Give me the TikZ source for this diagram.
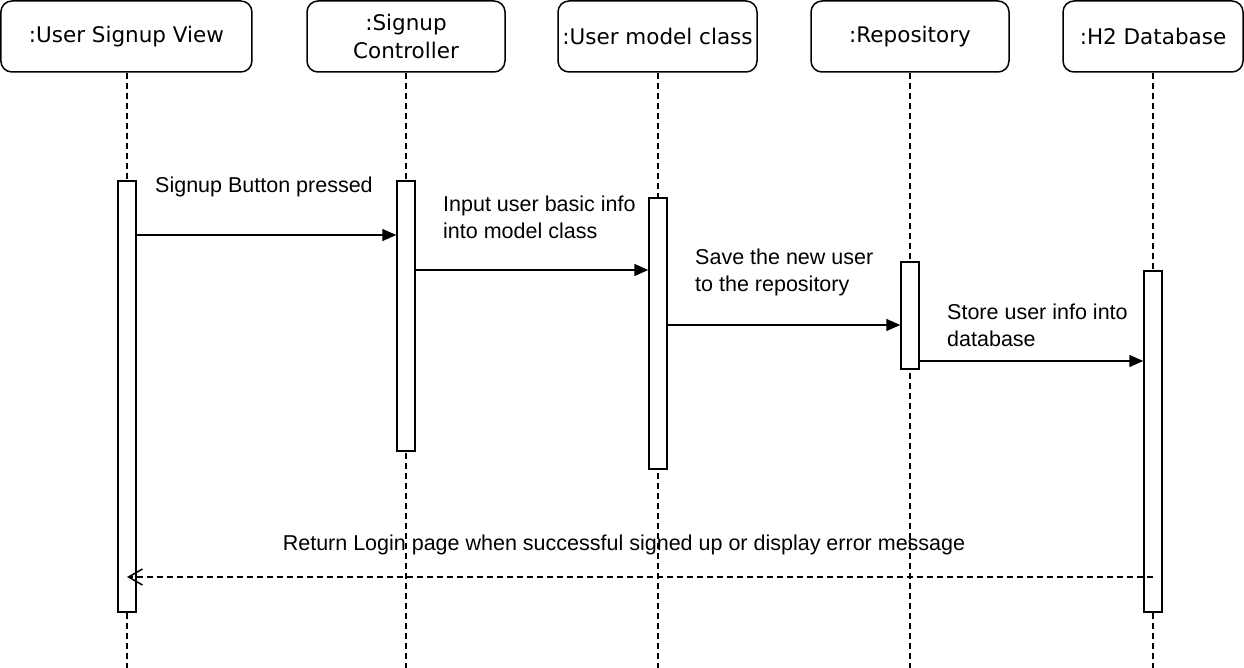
\documentclass[tikz,border=0pt]{standalone}
\usepackage{fontspec}
\setmainfont{Liberation Sans}
\newfontfamily\hdrfont{DejaVu Sans}
\usetikzlibrary{arrows.meta}
\begin{document}
\begin{tikzpicture}[x=1pt,y=-1pt,
  hdr/.style={draw, rounded corners=11pt, line width=1.5pt, inner sep=0pt, align=center,
    minimum height=71pt, font=\hdrfont\fontsize{21.5}{28}\selectfont},
  life/.style={line width=1.5pt, dash pattern=on 6pt off 4pt},
  actbar/.style={draw, fill=white, line width=1.5pt, inner sep=0pt, minimum width=18pt},
  msg/.style={line width=1.5pt, -{Triangle[length=14pt,width=12pt]}},
  ret/.style={line width=1.5pt, dash pattern=on 6pt off 4pt, -{Straight Barb[length=14pt,width=16pt,line width=1.5pt]}},
  lbl/.style={inner sep=0pt, align=left, anchor=west, font=\fontsize{21.5}{27}\selectfont}
]
\useasboundingbox (0,0) rectangle (1244,668);

% headers
\node[hdr, minimum width=251pt] (h1) at (126.4,36.5) {:User Signup View};
\node[hdr, minimum width=198pt] (h2) at (406,36.5) {:Signup\\Controller};
\node[hdr, minimum width=199pt] (h3) at (657.5,36.5) {:User model class};
\node[hdr, minimum width=198pt] (h4) at (910,36.5) {:Repository};
\node[hdr, minimum width=180pt] (h5) at (1153,36.5) {:H2 Database};

% lifeline ends
\coordinate (e1) at (127,668);
\coordinate (e2) at (406,668);
\coordinate (e3) at (658,668);
\coordinate (e4) at (910,668);
\coordinate (e5) at (1153,668);
\draw[life] (h1.south -| e1) -- (e1);
\draw[life] (h2.south) -- (e2);
\draw[life] (h3.south -| e3) -- (e3);
\draw[life] (h4.south) -- (e4);
\draw[life] (h5.south) -- (e5);

% activation bars
\node[actbar, minimum height=431pt] (b1) at (127,396.5) {};
\node[actbar, minimum height=270pt] (b2) at (406,316) {};
\node[actbar, minimum height=271pt] (b3) at (658,333.5) {};
\node[actbar, minimum height=107pt] (b4) at (910,315.5) {};
\node[actbar, minimum height=341pt] (b5) at (1153,441.5) {};

% message levels
\coordinate (m1) at (0,235);
\coordinate (m2) at (0,270);
\coordinate (m3) at (0,325);
\coordinate (m4) at (0,361);
\coordinate (m5) at (0,577);

\draw[msg] (b1.east |- m1) -- (b2.west |- m1);
\draw[msg] (b2.east |- m2) -- (b3.west |- m2);
\draw[msg] (b3.east |- m3) -- (b4.west |- m3);
\draw[msg] (b4.east |- m4) -- (b5.west |- m4);
\draw[ret] (b5.center |- m5) -- (b1.center |- m5);

% labels
\node[lbl] (t1) at (155,187) {Signup Button pressed};
\node[lbl] (t2) at (443,217.5) {Input user basic info\\into model class};
\node[lbl] (t3) at (695,272) {Save the new user\\to the repository};
\node[lbl] (t4) at (947,325) {Store user info into\\database};
\node[lbl, anchor=center] (t5) at (624,545) {Return Login page when successful signed up or display error message};
\end{tikzpicture}
\end{document}
